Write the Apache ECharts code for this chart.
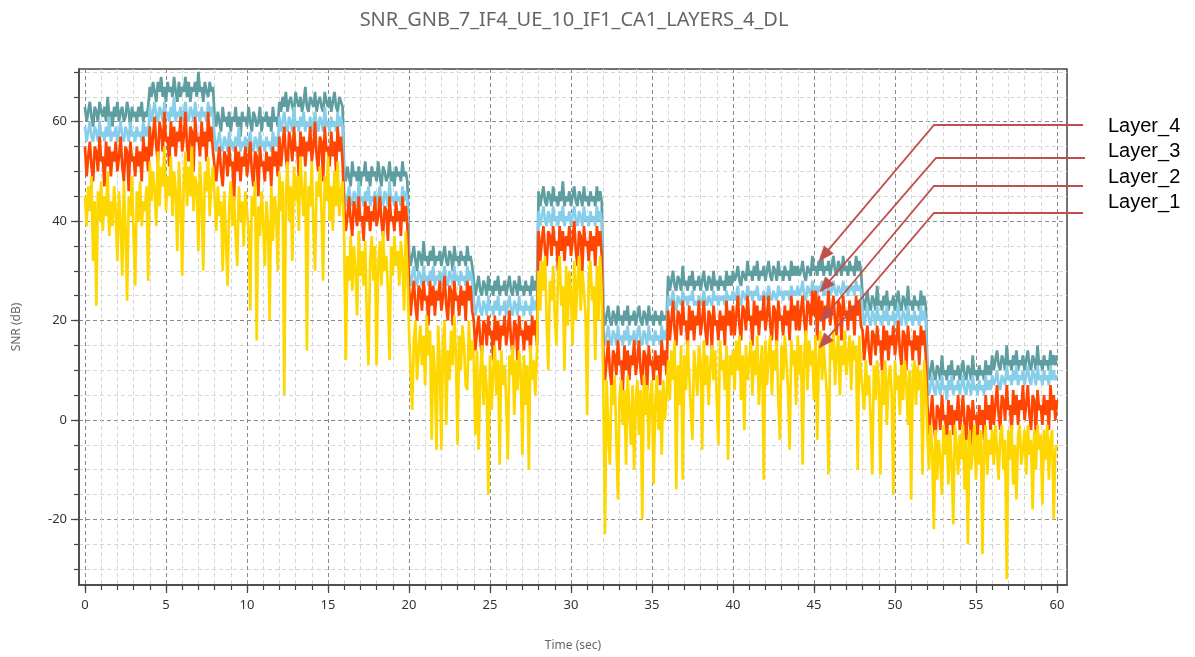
<!DOCTYPE html>
<html><head><meta charset="utf-8">
<script src="https://cdn.jsdelivr.net/npm/echarts@6/dist/echarts.min.js"></script>
<style>html,body{margin:0;padding:0;background:#fff}#chart{width:1195px;height:657px}</style>
</head><body><div id="chart"></div>
<script>
// sampling step of the traces (seconds)
const sampleStep = 0.1;

// Layer_4 (teal) SNR in dB, one value per 0.1 s from 0 to 60 s
const layer4 = [
63,60,62,64,61,59,63,62,60,64,62,61,63,60,65,61,62,59,63,61,64,60,62,63,60,61,64,62,59,63,61,62,60,63,61,64,60,62,61,63,
67,65,68,66,64,68,66,69,65,67,64,68,66,67,65,69,66,64,68,65,67,66,69,65,68,64,67,66,68,65,70,66,67,64,68,66,65,68,66,67,
61,59,62,60,58,63,60,61,59,62,58,61,60,63,59,61,57,62,60,61,59,63,60,58,62,61,59,60,63,58,61,60,62,59,61,58,63,60,61,59,
64,62,65,63,66,62,64,65,63,62,66,64,63,65,62,64,67,63,62,65,64,63,66,62,64,65,63,62,66,64,63,65,62,64,66,63,62,65,64,63,
50,48,51,49,47,52,49,50,48,51,47,50,49,52,48,50,47,51,49,50,48,52,49,47,51,50,48,49,52,48,50,47,51,49,50,48,52,49,50,48,
34,31,33,35,32,30,34,33,31,36,32,33,31,34,32,35,31,33,32,34,31,33,35,32,31,34,33,30,35,32,33,31,34,32,33,31,35,32,33,31,
28,25,27,29,26,25,28,27,25,29,26,27,25,28,26,29,25,27,26,28,25,27,29,26,25,28,27,25,29,26,27,25,28,26,27,25,29,26,28,26,
46,43,45,47,44,43,46,45,43,47,44,45,43,46,44,48,43,45,44,46,43,45,47,44,43,46,45,43,47,44,45,43,46,44,45,43,47,44,46,44,
22,19,21,23,20,19,22,21,19,23,20,21,19,22,20,23,19,21,20,22,19,21,23,20,19,22,21,19,23,20,21,19,22,20,21,19,22,20,21,20,
29,26,28,30,27,26,29,28,26,31,27,28,26,29,27,30,26,28,27,29,26,28,30,27,26,29,28,26,30,27,28,26,29,27,28,26,30,27,29,27,
30,28,29,31,28,27,30,29,28,32,29,30,28,31,29,32,28,30,29,31,28,30,32,29,28,31,30,28,32,29,30,28,31,29,30,28,32,29,31,29,
31,29,30,32,29,28,31,30,29,33,30,31,29,32,30,33,29,31,30,32,29,31,33,30,29,32,31,29,33,30,31,29,32,30,31,29,33,30,32,30,
25,22,24,26,23,22,25,24,22,27,23,24,22,25,23,26,22,24,23,25,22,24,26,23,22,25,24,22,27,23,24,22,25,23,24,22,26,23,25,23,
11,8,10,12,9,8,11,10,8,13,9,10,8,11,9,12,8,10,9,11,8,10,12,9,8,11,10,8,13,9,10,8,11,9,10,8,12,9,11,9,
13,10,12,14,11,10,13,12,10,15,11,12,10,13,11,14,10,12,11,13,10,12,14,11,10,13,12,10,15,11,12,10,13,11,12,10,14,11,13,11,
13];

// Layer_3 (sky blue)
const layer3 = [
59,56,58,60,57,56,59,58,56,60,57,58,56,59,57,61,56,58,57,59,56,58,60,57,56,59,58,56,60,57,58,56,59,57,58,56,60,57,59,57,
63,60,62,64,61,60,63,62,60,64,61,62,60,63,61,65,60,62,61,63,60,62,64,61,60,63,62,60,64,61,62,60,63,61,62,60,64,61,63,61,
57,54,56,58,55,54,57,56,54,58,55,56,54,57,55,59,54,56,55,57,54,56,58,55,54,57,56,54,58,55,56,54,57,55,56,54,58,55,57,55,
61,58,60,62,59,58,61,60,58,63,59,60,58,61,59,62,58,60,59,61,58,60,62,59,58,61,60,58,63,59,60,58,61,59,60,58,62,59,61,59,
46,43,45,47,44,43,46,45,43,48,44,45,43,46,44,47,43,45,44,46,43,45,47,44,43,46,45,43,48,44,45,43,46,44,45,43,47,44,46,44,
30,27,29,31,28,27,30,29,27,31,28,29,27,30,28,31,27,29,28,30,27,29,31,28,27,30,29,27,31,28,29,27,30,28,29,27,31,28,30,28,
24,21,23,25,22,21,24,23,21,25,22,23,21,24,22,25,21,23,22,24,21,23,25,22,21,24,23,21,25,22,23,21,24,22,23,21,25,22,24,22,
42,39,41,43,40,39,42,41,39,43,40,41,39,42,40,43,39,41,40,42,39,41,43,40,39,42,41,39,43,40,41,39,42,40,41,39,43,40,42,40,
18,15,17,19,16,15,18,17,15,19,16,17,15,18,16,19,15,17,16,18,15,17,19,16,15,18,17,15,19,16,17,15,18,16,17,15,19,16,18,16,
25,23,24,26,23,22,25,24,23,26,24,25,23,25,24,26,23,24,23,25,23,24,26,24,23,25,24,23,26,24,25,23,25,24,25,23,26,24,25,24,
26,24,25,27,24,23,26,25,24,27,25,26,24,26,25,27,24,25,24,26,24,25,27,25,24,26,25,24,27,25,26,24,26,25,26,24,27,25,26,25,
27,25,26,28,25,24,27,26,25,28,26,27,25,27,26,28,25,26,25,27,25,26,28,26,25,27,26,25,28,26,27,25,27,26,27,25,28,26,27,26,
22,19,21,23,20,19,22,21,19,23,20,21,19,22,20,23,19,21,20,22,19,21,23,20,19,22,21,19,23,20,21,19,22,20,21,19,23,20,22,20,
8,5,7,9,6,5,8,7,5,9,6,7,4,8,6,9,5,7,6,8,5,7,9,6,5,8,7,5,9,6,7,5,8,6,7,5,9,6,8,6,
9,7,8,10,7,6,9,8,7,11,8,9,7,10,8,11,7,9,8,10,7,9,11,8,7,10,9,7,11,8,9,7,10,8,9,7,11,8,10,8,
9];

// Layer_2 (orange red)
const layer2 = [
55,49,53,56,51,48,55,54,50,57,52,53,47,56,51,55,49,54,52,56,50,53,57,51,48,55,54,46,56,52,53,49,55,51,54,48,57,52,55,50,
59,53,57,61,55,52,60,58,54,62,56,57,51,60,55,59,53,58,56,61,54,57,62,55,52,59,58,50,61,56,57,53,60,55,58,52,62,56,59,54,
54,48,52,55,50,47,54,53,49,55,51,52,44,55,50,54,48,53,51,55,49,52,56,50,47,54,53,45,55,51,52,48,54,50,53,47,55,51,54,49,
57,51,55,59,53,50,58,56,52,59,54,55,49,58,53,57,51,56,54,59,52,55,60,53,50,57,56,48,59,54,55,51,58,53,56,50,59,54,57,52,
43,38,41,45,40,37,44,42,39,45,40,41,36,44,40,43,38,42,40,45,39,41,45,40,37,43,42,36,45,40,41,38,44,40,42,37,45,40,43,39,
27,21,25,28,23,20,27,26,22,28,24,25,19,28,23,27,21,26,24,28,22,25,29,23,20,27,26,19,28,24,25,21,27,23,26,20,28,24,27,22,
20,14,18,21,16,13,20,19,15,21,17,18,12,21,16,20,14,19,17,21,15,18,22,16,13,20,19,12,21,17,18,14,20,16,19,13,21,17,20,15,
38,32,36,39,34,31,38,37,33,39,35,36,30,39,34,38,32,37,35,39,33,36,40,34,31,38,37,30,39,35,36,32,38,34,37,31,39,35,38,33,
14,8,12,16,10,7,14,13,9,16,11,12,6,15,10,14,8,13,11,16,9,12,16,10,7,14,13,6,15,11,12,8,14,10,13,7,16,11,14,9,
22,16,20,24,18,15,22,21,17,24,19,20,14,23,18,22,16,21,19,24,17,20,24,18,15,22,21,14,23,19,20,16,22,18,21,15,24,19,22,17,
23,17,21,25,19,16,23,22,18,25,20,21,15,24,19,23,17,22,20,25,18,21,25,19,16,23,22,15,24,20,21,17,23,19,22,16,25,20,23,18,
24,18,22,25,20,17,24,23,19,26,21,26,16,25,20,24,18,23,21,26,19,22,25,20,17,24,23,16,25,21,22,18,24,20,23,17,25,21,24,19,
18,12,16,19,14,11,18,17,13,19,15,16,10,19,14,18,12,17,15,19,13,16,20,14,11,18,17,10,19,15,16,12,18,14,17,11,19,15,18,13,
3,-3,1,5,-1,-4,3,2,-2,5,0,1,-5,4,-1,3,-3,2,0,5,-2,1,5,-1,-4,3,2,-5,4,0,1,-3,3,-1,2,-4,5,0,3,-2,
5,-1,3,7,1,-2,5,4,0,7,2,3,-3,6,1,5,-1,4,2,7,0,3,7,1,-2,5,4,-3,6,2,3,-1,5,1,4,-2,7,2,5,0,
4];

// Layer_1 (gold)
const layer1 = [
45,39,47,42,49,32,44,23,46,40,48,38,45,41,50,37,44,39,47,42,32,46,40,29,48,38,24,45,41,49,37,27,46,40,48,39,44,42,47,28,
52,44,50,46,39,54,43,51,47,55,42,49,45,53,41,50,46,34,52,44,29,48,54,43,51,45,55,42,49,47,34,52,44,30,50,46,53,41,48,51,
45,38,47,41,44,30,46,36,27,43,48,39,45,37,31,47,40,44,35,46,42,38,22,45,41,48,16,43,37,46,40,31,44,39,20,47,36,45,42,30,
50,42,48,5,45,52,40,47,32,51,44,49,38,53,46,41,50,14,47,43,52,39,30,48,45,51,42,28,49,44,53,40,47,38,50,43,52,41,46,48,
36,12,33,28,37,26,35,30,21,38,29,34,27,36,20,11,32,37,28,35,11,31,36,27,38,30,33,26,12,35,29,37,31,34,27,36,32,22,38,30,
18,10,2,16,20,8,14,19,11,17,7,21,13,18,-4,15,9,-6,19,12,-6,16,20,-1,14,8,18,11,21,13,-5,17,10,19,15,7,6,20,12,16,
12,-3,14,-6,9,15,3,11,6,-15,13,2,10,15,5,12,-9,14,7,11,4,-8,13,9,15,1,12,6,14,10,-7,13,3,11,-10,15,8,12,5,14,
30,22,32,26,33,20,10,28,24,31,21,15,29,33,23,27,10,31,19,30,25,15,32,20,28,33,22,30,26,21,1,29,32,24,27,12,31,20,33,25,
6,-23,8,-2,-9,7,3,9,-4,-16,5,8,-1,6,-9,9,2,-5,7,-10,4,8,-3,6,-20,9,1,7,-6,5,8,-13,3,9,-2,6,-7,8,0,5,
12,4,14,8,16,-14,11,3,15,-12,13,6,16,9,2,-4,14,10,5,15,12,-6,16,7,13,3,11,15,8,14,4,-5,16,10,12,6,15,-8,13,9,
14,6,16,10,17,4,13,-2,15,8,12,16,5,14,9,17,3,11,15,-12,16,7,13,17,5,14,10,16,4,-4,15,8,17,12,6,-6,16,11,14,3,
17,9,15,-9,13,18,6,16,11,14,4,17,-4,12,18,8,15,10,5,-11,16,12,18,7,14,17,5,15,11,18,9,13,17,6,16,12,15,-10,17,10,
10,2,12,5,9,0,-11,11,4,12,7,-11,10,3,12,-1,8,11,5,-15,12,6,9,1,11,4,12,8,-1,10,-16,9,12,3,11,6,10,-11,12,7,
-3,-10,-1,-6,-22,-2,-12,-4,-8,-15,-1,-7,-3,-13,-2,-9,-21,-1,-5,-11,-3,-8,-1,-14,-4,-25,-2,-10,-6,-1,-12,-3,-9,-2,-27,-5,-1,-11,-4,-7,
-2,-9,-1,-6,-12,-3,-1,-10,-4,-32,-2,-8,-1,-13,-5,-16,-3,-1,-9,-6,-2,-11,-1,-7,-4,-18,-2,-10,-1,-6,-3,-17,-2,-8,-1,-12,-4,-2,-20,-6,
-5];

const seriesNames = ['Layer_4', 'Layer_3', 'Layer_2', 'Layer_1'];
const seriesColors = ['#5F9EA0', '#87CEEB', '#FF4500', '#FFD700'];
const xTickLabels = [0, 5, 10, 15, 20, 25, 30, 35, 40, 45, 50, 55, 60];
const yTickLabels = [-20, 0, 20, 40, 60];
const xMinorTicks = Array.from({length: 61}, (_, i) => i);
const yMinorTicks = [-30,-25,-20,-15,-10,-5,0,5,10,15,20,25,30,35,40,45,50,55,60,65,70];

const times = layer4.map((_, i) => Math.round(i * sampleStep * 10) / 10);
const toPairs = arr => arr.map((v, i) => [times[i], v]);
const layers = [layer4, layer3, layer2, layer1];

const MINOR = '#d6d6d6', MAJOR = '#8a8a8a', FRAME = '#444';
const isIn = (list, v) => list.some(t => Math.abs(t - v) < 1e-6);
const tickFont = {fontFamily: 'Noto Sans', fontSize: 13, color: '#333'};
const nameFont = {fontFamily: 'Noto Sans', fontSize: 12, color: '#666'};

// annotation arrows (screen positions of callouts)
const callouts = [
  {label: 'Layer_4', corner: [934, 125], tip: [819, 261], end: 1083, textY: 128},
  {label: 'Layer_3', corner: [936, 158], tip: [820, 292], end: 1085, textY: 153},
  {label: 'Layer_2', corner: [934, 186], tip: [820, 322], end: 1083, textY: 179},
  {label: 'Layer_1', corner: [934, 213], tip: [819, 348], end: 1083, textY: 204}
];
const ARROW = '#C0504D';
const graphics = [];
callouts.forEach(c => {
  const dx = c.tip[0] - c.corner[0], dy = c.tip[1] - c.corner[1];
  const len = Math.sqrt(dx * dx + dy * dy);
  const ux = dx / len, uy = dy / len;
  const hl = 15, hw = 6;
  const bx = c.tip[0] - ux * hl, by = c.tip[1] - uy * hl;
  graphics.push({type: 'polyline', silent: true, z: 100,
    shape: {points: [[c.end, c.corner[1]], c.corner, [bx + ux * 2, by + uy * 2]]},
    style: {stroke: ARROW, lineWidth: 1.8, fill: null}});
  graphics.push({type: 'polygon', silent: true, z: 100,
    shape: {points: [c.tip, [bx - uy * hw, by + ux * hw], [bx + uy * hw, by - ux * hw]]},
    style: {fill: ARROW, stroke: ARROW, lineWidth: 0.5}});
  graphics.push({type: 'text', silent: true, z: 100, left: 1108, top: c.textY - 12,
    style: {text: c.label, fontFamily: 'Liberation Sans', fontSize: 20, fill: '#000'}});
});

const chart = echarts.init(document.getElementById('chart'), null, {renderer: 'canvas'});
chart.setOption({
  animation: false,
  backgroundColor: '#fff',
  title: {
    text: 'SNR_GNB_7_IF4_UE_10_IF1_CA1_LAYERS_4_DL',
    left: 569, top: 5, textAlign: 'center',
    textStyle: {fontFamily: 'Noto Sans', fontSize: 20, fontWeight: 'normal', color: '#666'}
  },
  grid: {left: 79, right: 128, top: 69, bottom: 72, show: true, borderColor: FRAME, borderWidth: 1.5, backgroundColor: 'transparent'},
  xAxis: [{
    type: 'value', min: -0.37, max: 60.62, splitNumber: 61,
    name: 'Time (sec)', nameLocation: 'middle', nameGap: 55, nameTextStyle: nameFont,
    axisLine: {show: true, onZero: false, lineStyle: {color: FRAME, width: 1.5}},
    axisTick: {show: true, length: 5, customValues: xMinorTicks, lineStyle: {color: FRAME, width: 1.2}},
    axisLabel: Object.assign({margin: 14, formatter: v => isIn(xTickLabels, v) ? String(Math.round(v)) : ''}, tickFont),
    splitLine: {show: true, lineStyle: {color: [MAJOR, MINOR, MINOR, MINOR, MINOR], type: [4, 3], width: 1}}
  }, {
    type: 'value', min: -0.37, max: 60.62, position: 'bottom',
    axisLine: {show: false, onZero: false},
    axisTick: {show: true, length: 8, customValues: xTickLabels, lineStyle: {color: FRAME, width: 1.2}},
    axisLabel: {show: false}, splitLine: {show: false}
  }],
  yAxis: [{
    type: 'value', min: -33.2, max: 70.6, splitNumber: 21,
    name: 'SNR (dB)', nameLocation: 'middle', nameGap: 56, nameTextStyle: nameFont,
    axisLine: {show: true, onZero: false, lineStyle: {color: FRAME, width: 1.5}},
    axisTick: {show: true, length: 5, customValues: yMinorTicks, lineStyle: {color: FRAME, width: 1.2}},
    axisLabel: Object.assign({margin: 12, formatter: v => isIn(yTickLabels, v) ? String(Math.round(v)) : ''}, tickFont),
    splitLine: {show: true, lineStyle: {color: [MINOR, MINOR, MAJOR, MINOR], type: [4, 3], width: 1}}
  }, {
    type: 'value', min: -33.2, max: 70.6, position: 'left',
    axisLine: {show: false, onZero: false},
    axisTick: {show: true, length: 8, customValues: yTickLabels, lineStyle: {color: FRAME, width: 1.2}},
    axisLabel: {show: false}, splitLine: {show: false}
  }],
  series: layers.map((arr, k) => ({
    name: seriesNames[k], type: 'line', data: toPairs(arr),
    xAxisIndex: 0, yAxisIndex: 0,
    showSymbol: false, symbol: 'none', sampling: null,
    lineStyle: {color: seriesColors[k], width: 2.7},
    itemStyle: {color: seriesColors[k]}
  })),
  graphic: graphics
});
</script></body></html>
